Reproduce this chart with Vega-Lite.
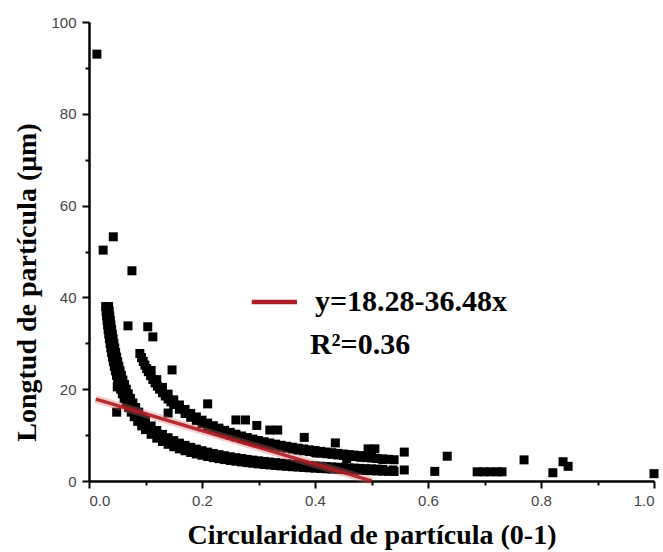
{
  "$schema": "https://vega.github.io/schema/vega-lite/v6.json",
  "width": 565,
  "height": 459,
  "autosize": {"type": "none"},
  "padding": {"left": 89, "top": 22, "right": 9, "bottom": 71},
  "background": "white",
  "config": {"view": {"stroke": null}},
  "datasets": {
    "pts": [
      {"x":0.014,"y":93.0},{"x":0.025,"y":50.3},{"x":0.043,"y":53.2},{"x":0.076,"y":45.8},{"x":0.069,"y":33.8},{"x":0.104,"y":33.6},{"x":0.113,"y":31.4},{"x":0.147,"y":24.2},{"x":0.049,"y":15.0},{"x":0.05,"y":20.5},{"x":0.21,"y":16.8},{"x":0.26,"y":13.3},{"x":0.277,"y":13.3},{"x":0.297,"y":12.1},{"x":0.32,"y":11.1},{"x":0.334,"y":11.1},{"x":0.381,"y":9.5},{"x":0.37,"y":6.8},{"x":0.403,"y":6.1},{"x":0.42,"y":6.1},{"x":0.436,"y":8.3},{"x":0.456,"y":4.9},{"x":0.483,"y":5.2},{"x":0.494,"y":7.0},{"x":0.506,"y":7.0},{"x":0.52,"y":4.7},{"x":0.538,"y":2.4},{"x":0.558,"y":6.3},{"x":0.558,"y":2.4},{"x":0.612,"y":2.1},{"x":0.634,"y":5.4},{"x":0.687,"y":2.0},{"x":0.699,"y":2.0},{"x":0.71,"y":2.0},{"x":0.722,"y":2.0},{"x":0.731,"y":2.0},{"x":0.77,"y":4.6},{"x":0.821,"y":1.8},{"x":0.839,"y":4.2},{"x":0.848,"y":3.2},{"x":1.0,"y":1.6},{"x":0.14,"y":14.8},
      {"x":0.0295,"y":38},{"x":0.0303,"y":37},{"x":0.0311,"y":36},{"x":0.032,"y":35},{"x":0.0329,"y":34},{"x":0.0339,"y":33},{"x":0.035,"y":32},{"x":0.0361,"y":31},{"x":0.0373,"y":30},{"x":0.0386,"y":29},{"x":0.04,"y":28},{"x":0.0415,"y":27},{"x":0.0431,"y":26},{"x":0.0448,"y":25},{"x":0.0467,"y":24},{"x":0.0487,"y":23},{"x":0.0509,"y":22},{"x":0.0533,"y":21},{"x":0.056,"y":20},{"x":0.059,"y":19},{"x":0.0622,"y":18},{"x":0.0659,"y":17},{"x":0.07,"y":16},{"x":0.0747,"y":15},{"x":0.08,"y":14},{"x":0.0862,"y":13},{"x":0.0933,"y":12},
      {"x":0.10,"y":11.2},{"x":0.11,"y":10.18},{"x":0.12,"y":9.33},{"x":0.13,"y":8.62},{"x":0.14,"y":8.0},{"x":0.15,"y":7.47},{"x":0.16,"y":7.0},{"x":0.17,"y":6.59},{"x":0.18,"y":6.22},{"x":0.19,"y":5.89},{"x":0.20,"y":5.6},{"x":0.21,"y":5.33},{"x":0.22,"y":5.09},{"x":0.23,"y":4.87},{"x":0.24,"y":4.67},{"x":0.25,"y":4.48},{"x":0.26,"y":4.31},{"x":0.27,"y":4.15},{"x":0.28,"y":4.0},{"x":0.29,"y":3.86},{"x":0.30,"y":3.73},{"x":0.31,"y":3.61},{"x":0.32,"y":3.5},{"x":0.33,"y":3.39},{"x":0.34,"y":3.29},{"x":0.35,"y":3.2},{"x":0.36,"y":3.11},{"x":0.37,"y":3.03},{"x":0.38,"y":2.95},{"x":0.39,"y":2.87},{"x":0.40,"y":2.8},{"x":0.41,"y":2.73},{"x":0.42,"y":2.67},{"x":0.43,"y":2.6},{"x":0.44,"y":2.55},{"x":0.45,"y":2.49},{"x":0.46,"y":2.43},{"x":0.47,"y":2.38},{"x":0.48,"y":2.33},{"x":0.49,"y":2.29},{"x":0.50,"y":2.24},{"x":0.51,"y":2.2},{"x":0.52,"y":2.15},{"x":0.53,"y":2.11},{"x":0.54,"y":2.07},
      {"x":0.0347,"y":38},{"x":0.0357,"y":37},{"x":0.0367,"y":36},{"x":0.0377,"y":35},{"x":0.0388,"y":34},{"x":0.04,"y":33},{"x":0.0413,"y":32},{"x":0.0426,"y":31},{"x":0.044,"y":30},{"x":0.0455,"y":29},{"x":0.0471,"y":28},{"x":0.0489,"y":27},{"x":0.0508,"y":26},{"x":0.0528,"y":25},{"x":0.055,"y":24},{"x":0.0574,"y":23},{"x":0.06,"y":22},{"x":0.0629,"y":21},{"x":0.066,"y":20},{"x":0.0695,"y":19},{"x":0.0733,"y":18},{"x":0.0777,"y":17},{"x":0.0825,"y":16},{"x":0.088,"y":15},{"x":0.0943,"y":14},
      {"x":0.10,"y":13.2},{"x":0.11,"y":12.0},{"x":0.12,"y":11.0},{"x":0.13,"y":10.15},{"x":0.14,"y":9.43},{"x":0.15,"y":8.8},{"x":0.16,"y":8.25},{"x":0.17,"y":7.76},{"x":0.18,"y":7.33},{"x":0.19,"y":6.95},{"x":0.20,"y":6.6},{"x":0.21,"y":6.29},{"x":0.22,"y":6.0},{"x":0.23,"y":5.74},{"x":0.24,"y":5.5},{"x":0.25,"y":5.28},{"x":0.26,"y":5.08},{"x":0.27,"y":4.89},{"x":0.28,"y":4.71},{"x":0.29,"y":4.55},{"x":0.30,"y":4.4},{"x":0.31,"y":4.26},{"x":0.32,"y":4.13},{"x":0.33,"y":4.0},{"x":0.34,"y":3.88},{"x":0.35,"y":3.77},{"x":0.36,"y":3.67},{"x":0.37,"y":3.57},{"x":0.38,"y":3.47},{"x":0.39,"y":3.38},{"x":0.40,"y":3.3},{"x":0.41,"y":3.22},{"x":0.42,"y":3.14},{"x":0.43,"y":3.07},{"x":0.44,"y":3.0},{"x":0.45,"y":2.93},{"x":0.46,"y":2.87},{"x":0.47,"y":2.81},{"x":0.48,"y":2.75},{"x":0.49,"y":2.69},{"x":0.50,"y":2.64},{"x":0.51,"y":2.59},{"x":0.52,"y":2.54},
      {"x":0.090,"y":27.78},{"x":0.093,"y":26.88},{"x":0.096,"y":26.04},{"x":0.099,"y":25.25},{"x":0.102,"y":24.51},{"x":0.105,"y":23.81},{"x":0.109,"y":22.94},{"x":0.113,"y":22.12},{"x":0.117,"y":21.37},{"x":0.121,"y":20.66},{"x":0.125,"y":20.0},{"x":0.130,"y":19.23},{"x":0.135,"y":18.52},{"x":0.140,"y":17.86},{"x":0.145,"y":17.24},{"x":0.150,"y":16.67},{"x":0.16,"y":15.63},{"x":0.17,"y":14.71},{"x":0.18,"y":13.89},{"x":0.19,"y":13.16},{"x":0.20,"y":12.5},{"x":0.21,"y":11.9},{"x":0.22,"y":11.36},{"x":0.23,"y":10.87},{"x":0.24,"y":10.42},{"x":0.25,"y":10.0},{"x":0.26,"y":9.62},{"x":0.27,"y":9.26},{"x":0.28,"y":8.93},{"x":0.29,"y":8.62},{"x":0.30,"y":8.33},{"x":0.31,"y":8.06},{"x":0.32,"y":7.81},{"x":0.33,"y":7.58},{"x":0.34,"y":7.35},{"x":0.35,"y":7.14},{"x":0.36,"y":6.94},{"x":0.37,"y":6.76},{"x":0.38,"y":6.58},{"x":0.39,"y":6.41},{"x":0.40,"y":6.25},{"x":0.41,"y":6.1},{"x":0.42,"y":5.95},{"x":0.43,"y":5.81},{"x":0.44,"y":5.68},{"x":0.45,"y":5.56},{"x":0.46,"y":5.43},{"x":0.47,"y":5.32},{"x":0.48,"y":5.21},{"x":0.49,"y":5.1},{"x":0.50,"y":5.0},{"x":0.51,"y":4.9},{"x":0.52,"y":4.81},{"x":0.53,"y":4.72},{"x":0.54,"y":4.63},
      {"x":0.11,"y":24.09},{"x":0.12,"y":22.08},{"x":0.13,"y":20.38},{"x":0.14,"y":18.93},{"x":0.15,"y":17.67},{"x":0.16,"y":16.56},{"x":0.17,"y":15.59},{"x":0.18,"y":14.72},{"x":0.19,"y":13.95},{"x":0.20,"y":13.25},{"x":0.21,"y":12.62},{"x":0.22,"y":12.05},{"x":0.23,"y":11.52},{"x":0.24,"y":11.04},{"x":0.25,"y":10.6},{"x":0.26,"y":10.19},{"x":0.27,"y":9.81},{"x":0.28,"y":9.46},{"x":0.29,"y":9.14},{"x":0.30,"y":8.83},{"x":0.31,"y":8.55},{"x":0.32,"y":8.28},{"x":0.33,"y":8.03},{"x":0.34,"y":7.79},{"x":0.35,"y":7.57},{"x":0.36,"y":7.36},{"x":0.37,"y":7.16},{"x":0.38,"y":6.97},{"x":0.39,"y":6.79},{"x":0.40,"y":6.63},{"x":0.41,"y":6.46},{"x":0.42,"y":6.31},{"x":0.43,"y":6.16},{"x":0.44,"y":6.02},{"x":0.45,"y":5.89},{"x":0.46,"y":5.76},{"x":0.47,"y":5.64},{"x":0.48,"y":5.52},{"x":0.49,"y":5.41},{"x":0.50,"y":5.3}
    ],
    "fit": [{"x":0.012,"y":17.84},{"x":0.5,"y":0.04}]
  },
  "layer": [
    {
      "data": {"name": "pts"},
      "mark": {"type": "point", "shape": "square", "filled": true, "size": 81, "color": "black", "opacity": 1},
      "encoding": {
        "x": {"field": "x", "type": "quantitative",
          "scale": {"domain": [0, 1], "nice": false},
          "axis": {
            "values": [0,0.1,0.2,0.3,0.4,0.5,0.6,0.7,0.8,0.9,1.0],
            "labelExpr": "round(datum.value*10)%2===0 ? format(datum.value,'.1f') : ''",
            "labelOverlap": false,
            "tickSize": {"condition": {"test": "round(datum.value*10)%2===0", "value": 7}, "value": 4},
            "tickWidth": 2, "tickColor": "black",
            "domainColor": "black", "domainWidth": 2.5,
            "grid": false,
            "labelFont": "Liberation Sans", "labelFontSize": 15, "labelColor": "#444", "labelPadding": 5,
            "title": "Circularidad de partícula (0-1)",
            "titleFont": "Liberation Serif", "titleFontSize": 28, "titleFontWeight": "bold", "titleColor": "black", "titlePadding": 13
          }
        },
        "y": {"field": "y", "type": "quantitative",
          "scale": {"domain": [0, 100], "nice": false},
          "axis": {
            "values": [0,10,20,30,40,50,60,70,80,90,100],
            "labelExpr": "datum.value % 20 === 0 ? format(datum.value,'d') : ''",
            "labelOverlap": false,
            "tickSize": {"condition": {"test": "datum.value % 20 === 0", "value": 7}, "value": 4},
            "tickWidth": 2, "tickColor": "black",
            "domainColor": "black", "domainWidth": 2.5,
            "grid": false,
            "labelFont": "Liberation Sans", "labelFontSize": 15, "labelColor": "#444", "labelPadding": 6,
            "title": "Longtud de partícula (μm)",
            "titleFont": "Liberation Serif", "titleFontSize": 28, "titleFontWeight": "bold", "titleColor": "black", "titlePadding": 9,
            "titleY": 260
          }
        }
      }
    },
    {
      "data": {"name": "fit"},
      "mark": {"type": "line", "color": "#e07070", "strokeWidth": 8, "opacity": 0.35},
      "encoding": {"x": {"field": "x", "type": "quantitative"}, "y": {"field": "y", "type": "quantitative"}}
    },
    {
      "data": {"name": "fit"},
      "mark": {"type": "line", "color": "#b01c24", "strokeWidth": 3.5, "opacity": 0.9},
      "encoding": {"x": {"field": "x", "type": "quantitative"}, "y": {"field": "y", "type": "quantitative"}}
    },
    {
      "data": {"values": [{}]},
      "mark": {"type": "rule", "color": "#b01c24", "strokeWidth": 4.5},
      "encoding": {"x": {"datum": 0.288}, "x2": {"datum": 0.368}, "y": {"datum": 39}}
    },
    {
      "data": {"values": [{}]},
      "mark": {"type": "text", "align": "left", "baseline": "middle", "font": "Liberation Serif", "fontWeight": "bold", "fontSize": 30, "color": "black"},
      "encoding": {"x": {"datum": 0.4}, "y": {"datum": 39}, "text": {"value": "y=18.28-36.48x"}}
    },
    {
      "data": {"values": [{}]},
      "mark": {"type": "text", "align": "left", "baseline": "middle", "font": "Liberation Serif", "fontWeight": "bold", "fontSize": 30, "color": "black"},
      "encoding": {"x": {"datum": 0.391}, "y": {"datum": 29.6}, "text": {"value": "R²=0.36"}}
    }
  ]
}
